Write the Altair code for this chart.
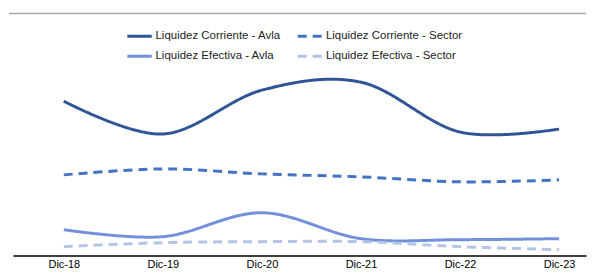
import altair as alt
import pandas as pd

periods = ["Dic-18", "Dic-19", "Dic-20", "Dic-21", "Dic-22", "Dic-23"]
series_names = [
    "Liquidez Corriente - Avla",
    "Liquidez Corriente - Sector",
    "Liquidez Efectiva - Avla",
    "Liquidez Efectiva - Sector",
]
corriente_avla = [1.57, 1.24, 1.68, 1.76, 1.26, 1.29]
corriente_sector = [0.83, 0.89, 0.84, 0.81, 0.76, 0.78]
efectiva_avla = [0.28, 0.21, 0.45, 0.19, 0.18, 0.19]
efectiva_sector = [0.11, 0.15, 0.16, 0.16, 0.11, 0.08]
top_border = [2.45]

colors = ["#2F5597", "#4472C4", "#7291DA", "#B4C3E8"]
dashes = [[1, 0], [9, 6], [1, 0], [9, 6]]

rows = []
for name, vals in zip(series_names, [corriente_avla, corriente_sector, efectiva_avla, efectiva_sector]):
    for i, (p, v) in enumerate(zip(periods, vals)):
        rows.append({"serie": name, "idx": i, "periodo": p, "valor": v})
df = pd.DataFrame(rows)
df_top = pd.DataFrame({"valor": top_border})

label_expr = "[" + ",".join(f"'{p}'" for p in periods) + "][datum.value]"

font = "Liberation Sans, Arial, sans-serif"

legend_kw = dict(orient="none", legendX=113, legendY=9, columns=2, direction="horizontal",
                 title=None, symbolType="stroke", symbolSize=600, symbolStrokeWidth=3,
                 labelFont=font, labelFontSize=11.5, labelColor="#222222", labelOffset=2,
                 columnPadding=10, rowPadding=0)

y_scale = alt.Scale(domain=[0.02, 2.45], nice=False, zero=False)

lines = alt.Chart(df).mark_line(interpolate="cardinal", strokeWidth=3).encode(
    x=alt.X("idx:Q",
            scale=alt.Scale(domain=[-0.513, 5.272], nice=False, zero=False),
            axis=alt.Axis(values=list(range(len(periods))), labelExpr=label_expr,
                          title=None, grid=False, ticks=False, domainColor="#000000",
                          domainWidth=1.5, labelFont=font, labelFontSize=11,
                          labelColor="#000000", labelPadding=3)),
    y=alt.Y("valor:Q", scale=y_scale, axis=None),
    color=alt.Color("serie:N",
                    scale=alt.Scale(domain=series_names, range=colors),
                    legend=alt.Legend(**legend_kw)),
    strokeDash=alt.StrokeDash("serie:N",
                              scale=alt.Scale(domain=series_names, range=dashes),
                              legend=alt.Legend(**legend_kw)),
)

top_line = alt.Chart(df_top).mark_rule(color="#A6A6A6", strokeWidth=1.5).encode(
    x=alt.value(-4), x2=alt.value(575), y=alt.Y("valor:Q", scale=y_scale, axis=None)
)

chart = alt.layer(lines, top_line).properties(
    width=575, height=243,
    padding={"left": 0, "top": 4, "right": 0, "bottom": 0},
).configure_view(stroke=None)

chart.save("out.html", embed_options={"renderer": "svg", "actions": False})
